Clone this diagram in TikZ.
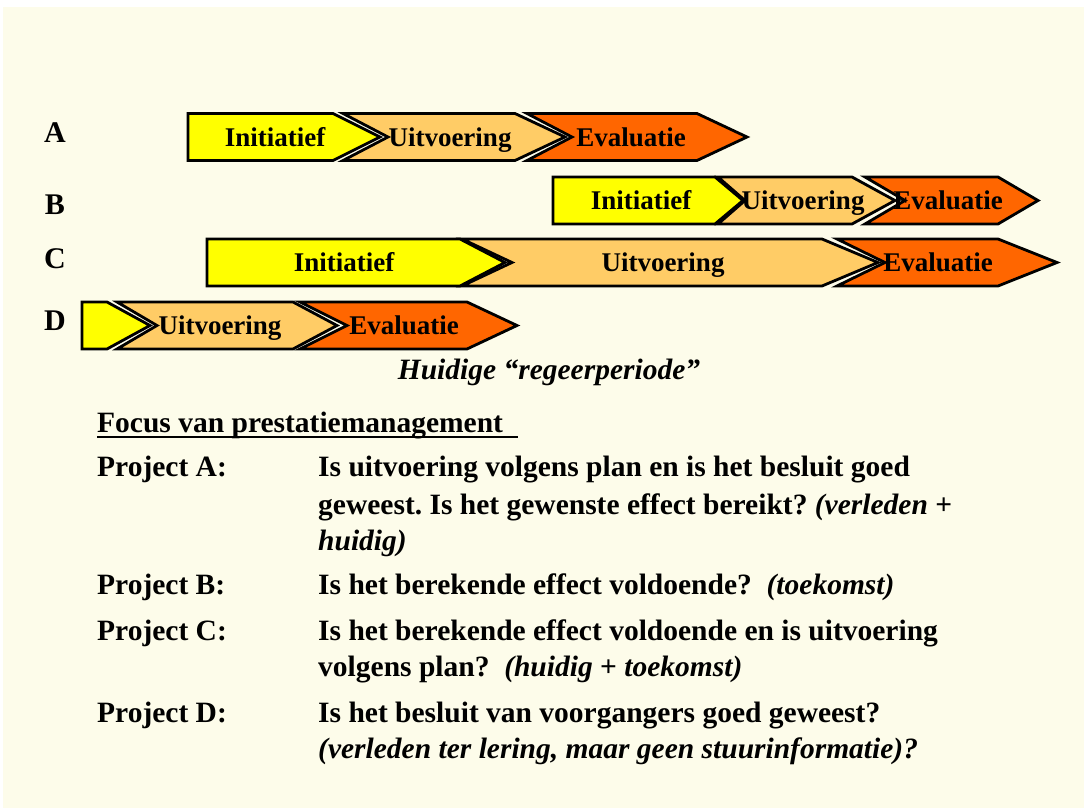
\documentclass[tikz,border=0pt]{standalone}
\usepackage{fontspec}
\setmainfont{Liberation Serif}
\usetikzlibrary{positioning}
\frenchspacing

\definecolor{cream}{RGB}{253,252,234}
\definecolor{ini}{RGB}{255,255,0}
\definecolor{uit}{RGB}{255,204,102}
\definecolor{eva}{RGB}{255,102,0}

% shape only: y centre, left, notch depth, body end, tip, fill
\newcommand{\chevshape}[6]{%
  \filldraw[chevbox,fill=#6] (#2,#1-23.5) -- (#4,#1-23.5) -- (#5,#1) -- (#4,#1+23.5)
    -- (#2,#1+23.5) -- (#2+#3,#1) -- cycle;}
% shape with its label
\newcommand{\chev}[9]{%
  \chevshape{#2}{#3}{#4}{#5}{#6}{#7}
  \node[chevtext] (#1) at (#8,#2+9) {#9};}

\begin{document}
\begin{tikzpicture}[x=1pt,y=-1pt,
    chevbox/.style={draw=black,line width=2.8pt,line join=miter},
    chevtext/.style={anchor=base,inner sep=0pt,font=\fontsize{27}{30}\selectfont\bfseries},
    rowlabel/.style={anchor=base,inner sep=0pt,font=\fontsize{30}{34}\selectfont\bfseries},
    body/.style={anchor=base west,inner sep=0pt,font=\fontsize{29.5}{35}\selectfont\bfseries},
    underl/.style={draw=black,line width=2pt}]

  \fill[white] (0,0) rectangle (1084,808);
  \fill[cream] (3,7) rectangle (1084,808);
  \useasboundingbox (0,0) rectangle (1084,808);

  % project A
  \chev{aini}{137}{188}{0}{333}{380}{ini}{275}{Initiatief}
  \chev{auit}{137}{343}{45}{515}{565}{uit}{450}{Uitvoering}
  \chev{aeva}{137}{527}{45}{697}{747}{eva}{631}{Evaluatie}
  % project B
  \chev{bini}{200.5}{553}{0}{715}{743}{ini}{641}{Initiatief}
  \chev{buit}{200.5}{718}{27}{852}{895}{uit}{803}{Uitvoering}
  \chev{beva}{200.5}{865}{40}{998}{1038}{eva}{948}{Evaluatie}
  % project C
  \chev{cini}{262.5}{207}{0}{460}{505}{ini}{344}{Initiatief}
  \chev{cuit}{262.5}{462}{50}{822}{878}{uit}{663}{Uitvoering}
  \chev{ceva}{262.5}{837}{48}{998}{1057}{eva}{938}{Evaluatie}
  % project D
  \chevshape{325.5}{82}{0}{107}{150}{ini}
  \chev{duit}{325.5}{117}{40}{293}{337}{uit}{220}{Uitvoering}
  \chev{deva}{325.5}{300}{47}{467}{517}{eva}{404}{Evaluatie}

  \node[rowlabel] (la) at (55,142) {A};
  \node[rowlabel] (lb) at (55,214) {B};
  \node[rowlabel] (lc) at (55,268) {C};
  \node[rowlabel] (ld) at (55,330) {D};

  \node[body,anchor=base] (period) at (549,379) {\itshape Huidige “regeerperiode”};

  \node[body] (focus) at (97,432) {Focus van prestatiemanagement};
  \coordinate (ulend) at (518,437);
  \draw[underl] (focus.base west |- ulend) -- (ulend);

  \node[body] (pa) at (97,476) {Project A:};
  \node[body] (qa1) at (318,476) {Is uitvoering volgens plan en is het besluit goed};
  \node[body] (qa2) at (318,514) {geweest. Is het gewenste effect bereikt? \textit{(verleden} +};
  \node[body] (qa3) at (318,550) {\textit{huidig)}};

  \node[body] (pb) at (97,594) {Project B:};
  \node[body] (qb1) at (318,594) {Is het berekende effect voldoende?\ \ \textit{(toekomst)}};

  \node[body] (pc) at (97,640) {Project C:};
  \node[body] (qc1) at (318,640) {Is het berekende effect voldoende en is uitvoering};
  \node[body] (qc2) at (318,676) {volgens plan?\ \ \textit{(huidig} + \textit{toekomst)}};

  \node[body] (pd) at (97,722) {Project D:};
  \node[body] (qd1) at (318,722) {Is het besluit van voorgangers goed geweest?};
  \node[body] (qd2) at (318,758) {\textit{(verleden ter lering, maar geen stuurinformatie)?}};
\end{tikzpicture}
\end{document}
